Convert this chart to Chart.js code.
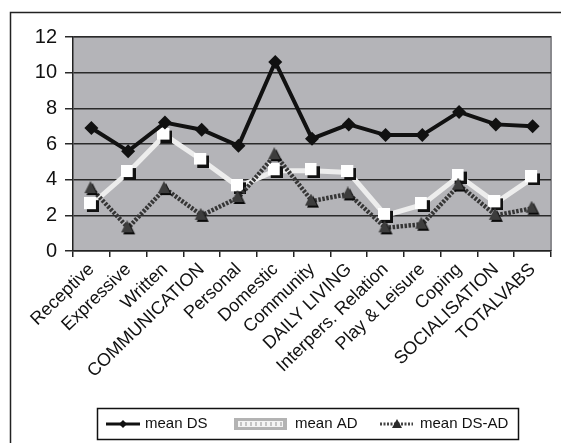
<!DOCTYPE html>
<html>
<head>
<meta charset="utf-8">
<script src="https://cdn.jsdelivr.net/npm/chart.js@4"></script>
<style>
  html, body { margin: 0; padding: 0; background: #fff; }
  #wrap { width: 561px; height: 443px; }
</style>
</head>
<body>
<div id="wrap"><canvas id="chart" width="561" height="443"></canvas></div>
<script>
const categories = ['Receptive', 'Expressive', 'Written', 'COMMUNICATION', 'Personal', 'Domestic',
  'Community', 'DAILY LIVING', 'Interpers. Relation', 'Play & Leisure', 'Coping', 'SOCIALISATION', 'TOTALVABS'];
const meanDS   = [6.9, 5.6, 7.2, 6.8, 5.9, 10.6, 6.3, 7.1, 6.5, 6.5, 7.8, 7.1, 7.0];
const meanAD   = [2.6, 4.4, 6.5, 5.1, 3.6, 4.5, 4.5, 4.4, 2.0, 2.6, 4.2, 2.7, 4.1];
const meanDSAD = [3.5, 1.3, 3.5, 2.0, 3.0, 5.4, 2.8, 3.2, 1.3, 1.5, 3.7, 2.0, 2.4];
const yTicks = [0, 2, 4, 6, 8, 10, 12];
const seriesNames = ['mean DS', 'mean AD', 'mean DS-AD'];

const FONT = "'Liberation Sans', Arial, sans-serif";

// white square with a dark offset shadow (mean AD points)
function squareMarker() {
  const c = document.createElement('canvas');
  c.width = 15; c.height = 15;
  const g = c.getContext('2d');
  g.fillStyle = '#111';
  g.fillRect(3, 3, 12, 12);
  g.fillStyle = '#fff';
  g.fillRect(0, 0, 12, 12);
  return c;
}

// dark triangle with a black offset shadow (mean DS-AD points)
function triangleMarker() {
  const c = document.createElement('canvas');
  c.width = 16; c.height = 15;
  const g = c.getContext('2d');
  const tri = (dx, dy) => {
    g.beginPath(); g.moveTo(7 + dx, 0 + dy); g.lineTo(13 + dx, 12 + dy); g.lineTo(1 + dx, 12 + dy); g.closePath(); g.fill();
  };
  g.fillStyle = '#0a0a0a'; tri(2, 2);
  g.fillStyle = '#3d3d3d'; tri(0, 0);
  return c;
}

function drawLegend(ctx) {
  const cy = 424;
  ctx.save();
  ctx.fillStyle = '#fff';
  ctx.fillRect(97, 408, 421, 31);
  ctx.strokeStyle = '#111';
  ctx.lineWidth = 1.5;
  ctx.strokeRect(97.5, 408.5, 421, 31);

  // mean DS
  ctx.strokeStyle = '#111'; ctx.lineWidth = 3;
  ctx.beginPath(); ctx.moveTo(106, cy); ctx.lineTo(140, cy); ctx.stroke();
  ctx.fillStyle = '#111';
  ctx.beginPath(); ctx.moveTo(123, cy - 4); ctx.lineTo(127, cy); ctx.lineTo(123, cy + 4); ctx.lineTo(119, cy); ctx.closePath(); ctx.fill();

  // mean AD
  ctx.fillStyle = '#b3b3b3';
  ctx.fillRect(234, cy - 6, 53, 12);
  ctx.fillStyle = '#f4f4f4';
  ctx.fillRect(238, cy - 3, 45, 6);
  ctx.fillStyle = '#c4c4c4';
  for (let x = 240; x < 282; x += 5) ctx.fillRect(x, cy - 2, 2, 4);

  // mean DS-AD
  ctx.strokeStyle = '#444'; ctx.lineWidth = 3;
  ctx.setLineDash([2, 1.5]);
  ctx.beginPath(); ctx.moveTo(380, cy); ctx.lineTo(413, cy); ctx.stroke();
  ctx.setLineDash([]);
  ctx.fillStyle = '#2a2a2a';
  ctx.beginPath(); ctx.moveTo(397, cy - 5); ctx.lineTo(402, cy + 4); ctx.lineTo(392, cy + 4); ctx.closePath(); ctx.fill();

  ctx.fillStyle = '#111';
  ctx.font = '15px ' + FONT;
  ctx.textBaseline = 'middle';
  ctx.fillText(seriesNames[0], 145, cy);
  ctx.fillText(seriesNames[1], 295, cy);
  ctx.fillText(seriesNames[2], 420, cy);
  ctx.restore();
}

const frame = {
  id: 'frame',
  beforeDraw(chart) {
    const { ctx, chartArea: a } = chart;
    ctx.save();
    ctx.strokeStyle = '#222';
    ctx.lineWidth = 1.5;
    ctx.strokeRect(10.5, 12.5, 700, 600);
    ctx.fillStyle = '#b4b4b8';
    ctx.fillRect(a.left, a.top, a.right - a.left, a.bottom - a.top);
    ctx.strokeStyle = '#8a8a8e';
    ctx.lineWidth = 2;
    ctx.beginPath();
    ctx.moveTo(a.left, a.top); ctx.lineTo(a.right, a.top); ctx.lineTo(a.right, a.bottom);
    ctx.stroke();
    ctx.restore();
  },
  afterDraw(chart) {
    drawLegend(chart.ctx);
  }
};

new Chart(document.getElementById('chart'), {
  type: 'line',
  data: {
    labels: categories,
    datasets: [
      {
        label: seriesNames[0],
        data: meanDS,
        borderColor: '#111',
        backgroundColor: '#111',
        borderWidth: 4,
        pointStyle: 'rectRot',
        pointRadius: 7,
        pointBorderWidth: 0,
        order: 0
      },
      {
        label: seriesNames[1],
        data: meanAD,
        borderColor: '#ededed',
        backgroundColor: '#fff',
        borderWidth: 5,
        pointStyle: squareMarker(),
        order: 2
      },
      {
        label: seriesNames[2],
        data: meanDSAD,
        borderColor: '#363636',
        backgroundColor: '#363636',
        borderWidth: 4.5,
        borderDash: [2.5, 1.5],
        pointStyle: triangleMarker(),
        order: 1
      }
    ]
  },
  options: {
    responsive: false,
    animation: false,
    layout: { padding: { left: 10, right: 10, top: 37, bottom: 42 } },
    plugins: {
      tooltip: { enabled: false },
      legend: { display: false }
    },
    scales: {
      x: {
        offset: true,
        grid: {
          offset: true,
          drawOnChartArea: false,
          drawTicks: true,
          tickLength: 6,
          color: '#222',
          lineWidth: 1.5
        },
        border: { color: '#222', width: 1.5 },
        ticks: {
          minRotation: 44,
          maxRotation: 44,
          autoSkip: false,
          color: '#111',
          padding: 2,
          font: { family: FONT, size: 18 }
        },
        afterFit(scale) { scale.height = 150; }
      },
      y: {
        min: 0,
        max: 12,
        afterBuildTicks(scale) { scale.ticks = yTicks.map(v => ({ value: v })); },
        grid: {
          color: '#2a2a2a',
          lineWidth: 1.5,
          tickLength: 8
        },
        border: { color: '#222', width: 1.5 },
        ticks: {
          color: '#111',
          padding: 8,
          font: { family: FONT, size: 20 }
        },
        afterFit(scale) { scale.width = 63; }
      }
    }
  },
  plugins: [frame]
});
</script>
</body>
</html>
